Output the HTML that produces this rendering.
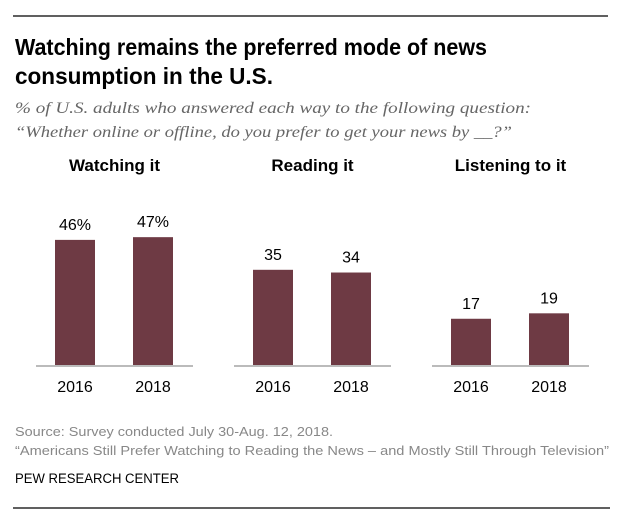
<!DOCTYPE html>
<html><head><meta charset="utf-8"><style>
body{margin:0;background:#fff;width:623px;height:518px;overflow:hidden}
svg text{font-family:"Liberation Sans",sans-serif}
</style></head><body>
<svg width="623" height="518">
<line x1="13" y1="16" x2="608" y2="16" stroke="#000" stroke-width="1.2"/>
<text x="15" y="55" font-size="23" font-weight="bold" fill="#000" textLength="472" lengthAdjust="spacingAndGlyphs">Watching remains the preferred mode of news</text>
<text x="15" y="84" font-size="23" font-weight="bold" fill="#000" textLength="258" lengthAdjust="spacingAndGlyphs">consumption in the U.S.</text>
<text x="15" y="113" font-size="16" font-style="italic" fill="#666" style="font-family:'Liberation Serif',serif" textLength="516" lengthAdjust="spacingAndGlyphs">% of U.S. adults who answered each way to the following question:</text>
<text x="15" y="137" font-size="16" font-style="italic" fill="#666" style="font-family:'Liberation Serif',serif" textLength="497" lengthAdjust="spacingAndGlyphs">“Whether online or offline, do you prefer to get your news by __?”</text>
<g id="plot"></g>
<text x="13" y="189" font-size="6" fill="#999" x2="0"></text>
<text x="15" y="436" font-size="13" fill="#888" textLength="318" lengthAdjust="spacingAndGlyphs">Source: Survey conducted July 30-Aug. 12, 2018.</text>
<text x="15" y="455" font-size="13" fill="#888" textLength="594" lengthAdjust="spacingAndGlyphs">“Americans Still Prefer Watching to Reading the News – and Mostly Still Through Television”</text>
<text x="15" y="483" font-size="13.5" fill="#000" textLength="164" lengthAdjust="spacingAndGlyphs">PEW RESEARCH CENTER</text>
<line x1="13" y1="508" x2="610" y2="508" stroke="#000" stroke-width="1.2"/>
</svg>
<script>
const panels=["Watching it","Reading it","Listening to it"];
const years=["2016","2018"];
const values=[[46,47],[35,34],[17,19]];
const labels=[["46%","47%"],["35","34"],["17","19"]];
const NS="http://www.w3.org/2000/svg";
const g=document.getElementById('plot');
const base=365, k=2.72, panelX=[36,234,432], panelW=157, barW=40;
function mk(t,a){const e=document.createElementNS(NS,t);for(const n in a)e.setAttribute(n,a[n]);g.appendChild(e);return e;}
function y(v){return base-v*k;}
panels.forEach((p,i)=>{
  const x0=panelX[i];
  const h=mk('text',{x:x0+panelW/2,y:171,'font-size':17,'font-weight':'bold','text-anchor':'middle'});
  h.textContent=p;
  
  
  values[i].forEach((v,j)=>{
    const bx=x0+19+j*78;
    const r=mk('rect',{x:bx,y:y(v),width:barW,height:v*k,fill:'#6e3a44'});
    
    
    const t=mk('text',{x:bx+barW/2,y:y(v)-10,'font-size':16,'text-anchor':'middle',fill:'#000'});
    t.textContent=labels[i][j];
    
    
    const yl=mk('text',{x:bx+barW/2,y:392,'font-size':16,'text-anchor':'middle',fill:'#000'});
    yl.textContent=years[j];
    
    
  });
  const l=mk('line',{x1:x0,x2:x0+panelW,y1:base+1,y2:base+1,stroke:'#bbb','stroke-width':2});
  
  
});
</script>
</body></html>
